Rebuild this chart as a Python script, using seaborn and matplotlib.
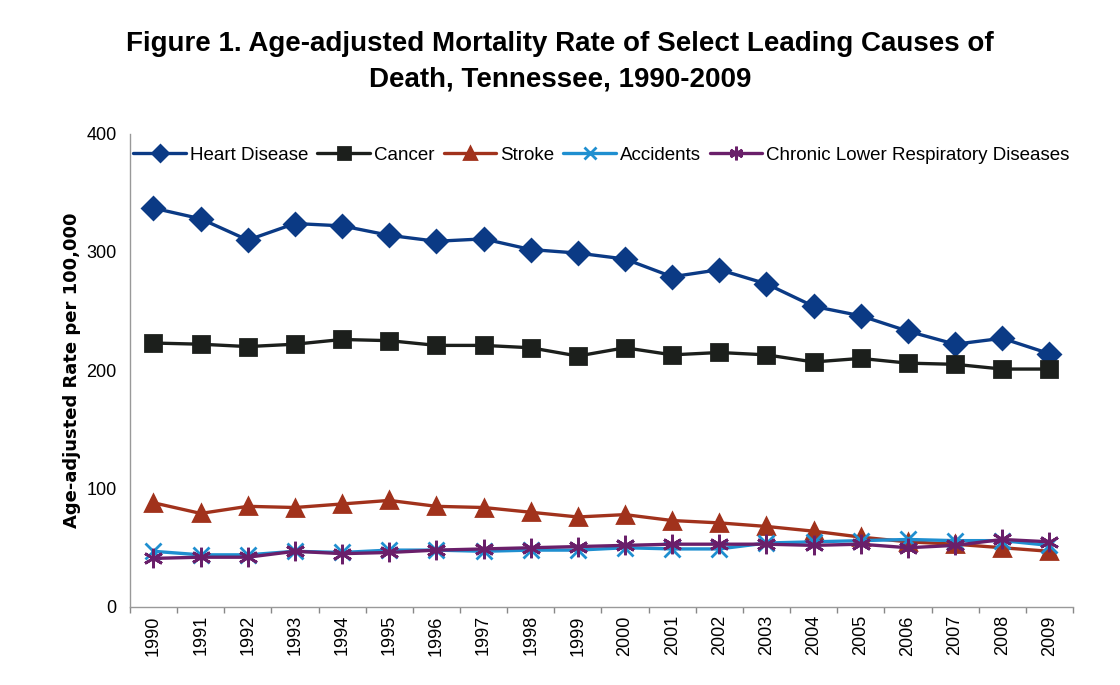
import matplotlib
matplotlib.use("Agg")
import matplotlib.pyplot as plt
import pandas as pd
import seaborn as sns

sns.set_theme(style="white")
plt.rcParams["font.family"] = ["Liberation Sans Narrow", "Liberation Sans", "DejaVu Sans"]
plt.rcParams["text.color"] = "black"
plt.rcParams["xtick.color"] = "black"
plt.rcParams["ytick.color"] = "black"
plt.rcParams["axes.labelcolor"] = "black"

years = [str(y) for y in range(1990, 2010)]
heart = [337, 328, 310, 324, 322, 314, 309, 311, 302, 299, 294, 279, 285, 273, 254, 246, 233, 222, 227, 214]
cancer = [223, 222, 220, 222, 226, 225, 221, 221, 219, 212, 219, 213, 215, 213, 207, 210, 206, 205, 201, 201]
stroke = [88, 79, 85, 84, 87, 90, 85, 84, 80, 76, 78, 73, 71, 68, 64, 59, 55, 53, 50, 47]
accidents = [47, 44, 44, 47, 46, 48, 48, 47, 48, 48, 50, 49, 49, 54, 55, 56, 57, 56, 56, 52]
clrd = [41, 42, 42, 47, 45, 46, 48, 49, 50, 51, 52, 53, 53, 53, 52, 53, 50, 52, 57, 55]

series = {
    "Heart Disease": heart,
    "Cancer": cancer,
    "Stroke": stroke,
    "Accidents": accidents,
    "Chronic Lower Respiratory Diseases": clrd,
}
styles = {
    "Heart Disease": dict(color="#0b3a85", marker="D", ms=11),
    "Cancer": dict(color="#1c1f1c", marker="s", ms=12),
    "Stroke": dict(color="#a1321c", marker="^", ms=12),
    "Accidents": dict(color="#1f8fd0", marker="x", ms=12),
    "Chronic Lower Respiratory Diseases": dict(color="#6a1f6a", marker=(6, 2, 0), ms=14),
}

fig, ax = plt.subplots(figsize=(11.2, 6.85), dpi=100)
fig.subplots_adjust(left=0.116, right=0.958, top=0.805, bottom=0.114)

for name, vals in series.items():
    df = pd.DataFrame({"pos": range(len(years)), "rate": vals})
    st = styles[name]
    sns.lineplot(data=df, x="pos", y="rate", ax=ax, color=st["color"], lw=2.4,
                 marker=st["marker"], markersize=st["ms"], markeredgewidth=2,
                 markeredgecolor=st["color"], label=name)

ax.set_xlim(-0.5, len(years) - 0.5)
ax.set_ylim(0, 400)
ax.set_yticks([0, 100, 200, 300, 400])
ax.set_xticks(range(len(years)))
ax.set_xticks([i - 0.5 for i in range(len(years) + 1)], minor=True)
ax.set_xticklabels(years, rotation=90, fontsize=13)
ax.tick_params(axis="x", which="major", length=0, pad=6)
ax.tick_params(axis="x", which="minor", bottom=True, length=4, color="#888888")
ax.tick_params(axis="y", labelsize=13)
ax.set_xlabel("")
ax.set_ylabel("Age-adjusted Rate per 100,000", fontsize=13, fontweight="bold",
              family=["DejaVu Sans"])

for s in ["top", "right"]:
    ax.spines[s].set_visible(False)
for s in ["left", "bottom"]:
    ax.spines[s].set_color("#999999")
    ax.spines[s].set_linewidth(1)

ax.legend(loc="upper center", bbox_to_anchor=(0.5, 1.0), ncol=5, frameon=False,
          fontsize=13.5, handlelength=2.8, handletextpad=0.2, columnspacing=0.5,
          markerscale=0.7, borderaxespad=0.3)

fig.suptitle("Figure 1. Age-adjusted Mortality Rate of Select Leading Causes of\nDeath, Tennessee, 1990-2009",
             fontsize=20, fontweight="bold", y=0.955, linespacing=1.5)

fig.savefig("out.png", dpi=100)
